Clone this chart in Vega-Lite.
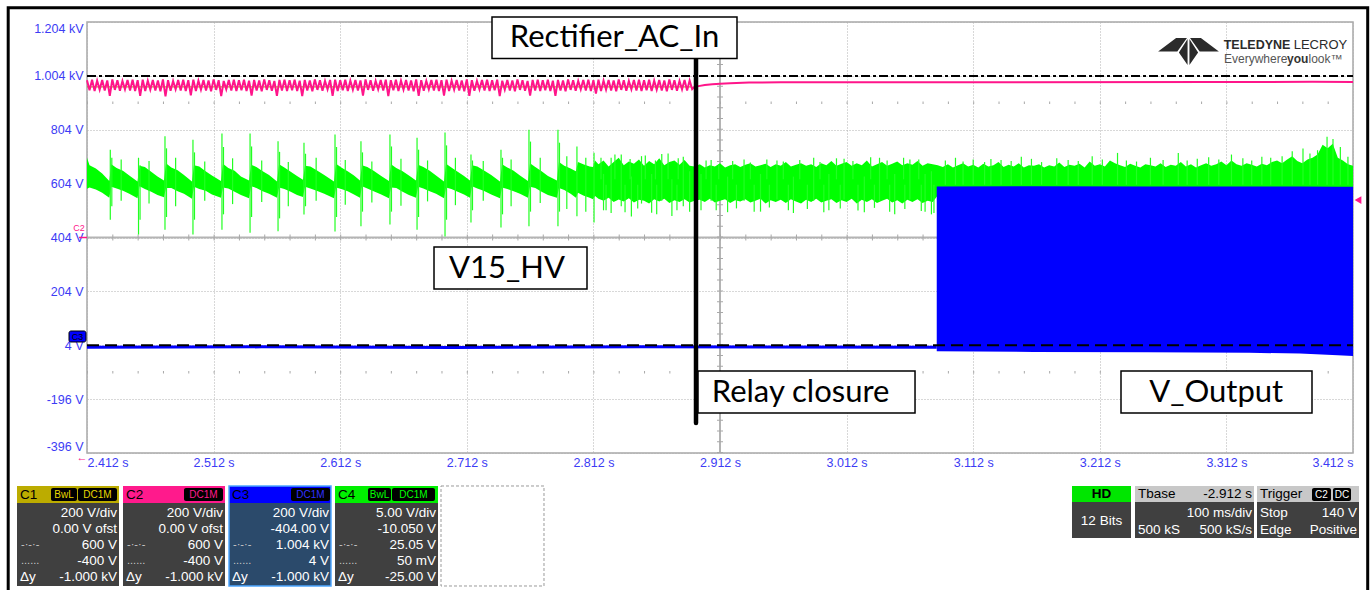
{
"$schema":"https://vega.github.io/schema/vega-lite/v6.json",
"width":1266,"height":431,
"padding":{"left":6,"top":6,"right":0,"bottom":0},
"background":"white",
"config":{"view":{"stroke":"#a8a8a8","strokeWidth":1.5},"font":"Liberation Sans",
"axis":{"grid":true,"gridDash":[1,2],"gridColor":"#b0b0b0","gridWidth":1,"domain":false,"ticks":false,"tickSize":0,"labelColor":"#3c3cf5","labelFont":"Liberation Sans","labelFontSize":12.5,"labelOverlap":false,"labelBound":false,"labelFlush":true}},
"resolve":{"scale":{"color":"independent"}},
"datasets":{
"pink":[{"t":2.412,"v":988},{"t":2.414,"v":951},{"t":2.416,"v":990},{"t":2.418,"v":948},{"t":2.42,"v":986},{"t":2.422,"v":953},{"t":2.424,"v":989},{"t":2.426,"v":950},{"t":2.428,"v":987},{"t":2.43,"v":930},{"t":2.432,"v":991},{"t":2.434,"v":952},{"t":2.436,"v":988},{"t":2.438,"v":949},{"t":2.44,"v":985},{"t":2.442,"v":954},{"t":2.444,"v":989},{"t":2.446,"v":950},{"t":2.448,"v":990},{"t":2.45,"v":948},{"t":2.452,"v":988},{"t":2.454,"v":930},{"t":2.456,"v":990},{"t":2.458,"v":948},{"t":2.46,"v":986},{"t":2.462,"v":953},{"t":2.464,"v":989},{"t":2.466,"v":950},{"t":2.468,"v":987},{"t":2.47,"v":947},{"t":2.472,"v":991},{"t":2.474,"v":928},{"t":2.476,"v":988},{"t":2.478,"v":949},{"t":2.48,"v":985},{"t":2.482,"v":954},{"t":2.484,"v":989},{"t":2.486,"v":950},{"t":2.488,"v":990},{"t":2.49,"v":948},{"t":2.492,"v":988},{"t":2.494,"v":932},{"t":2.496,"v":990},{"t":2.498,"v":948},{"t":2.5,"v":986},{"t":2.502,"v":953},{"t":2.504,"v":989},{"t":2.506,"v":950},{"t":2.508,"v":987},{"t":2.51,"v":947},{"t":2.512,"v":991},{"t":2.514,"v":952},{"t":2.516,"v":988},{"t":2.518,"v":929},{"t":2.52,"v":985},{"t":2.522,"v":954},{"t":2.524,"v":989},{"t":2.526,"v":950},{"t":2.528,"v":990},{"t":2.53,"v":948},{"t":2.532,"v":988},{"t":2.534,"v":951},{"t":2.536,"v":990},{"t":2.538,"v":948},{"t":2.54,"v":986},{"t":2.542,"v":931},{"t":2.544,"v":989},{"t":2.546,"v":950},{"t":2.548,"v":987},{"t":2.55,"v":947},{"t":2.552,"v":991},{"t":2.554,"v":952},{"t":2.556,"v":988},{"t":2.558,"v":949},{"t":2.56,"v":985},{"t":2.562,"v":930},{"t":2.564,"v":989},{"t":2.566,"v":950},{"t":2.568,"v":990},{"t":2.57,"v":948},{"t":2.572,"v":988},{"t":2.574,"v":951},{"t":2.576,"v":990},{"t":2.578,"v":948},{"t":2.58,"v":986},{"t":2.582,"v":929},{"t":2.584,"v":989},{"t":2.586,"v":950},{"t":2.588,"v":987},{"t":2.59,"v":947},{"t":2.592,"v":991},{"t":2.594,"v":952},{"t":2.596,"v":988},{"t":2.598,"v":949},{"t":2.6,"v":985},{"t":2.602,"v":954},{"t":2.604,"v":989},{"t":2.606,"v":930},{"t":2.608,"v":990},{"t":2.61,"v":948},{"t":2.612,"v":988},{"t":2.614,"v":951},{"t":2.616,"v":990},{"t":2.618,"v":948},{"t":2.62,"v":986},{"t":2.622,"v":953},{"t":2.624,"v":989},{"t":2.626,"v":950},{"t":2.628,"v":987},{"t":2.63,"v":931},{"t":2.632,"v":991},{"t":2.634,"v":952},{"t":2.636,"v":988},{"t":2.638,"v":949},{"t":2.64,"v":985},{"t":2.642,"v":954},{"t":2.644,"v":989},{"t":2.646,"v":950},{"t":2.648,"v":990},{"t":2.65,"v":929},{"t":2.652,"v":988},{"t":2.654,"v":951},{"t":2.656,"v":990},{"t":2.658,"v":948},{"t":2.66,"v":986},{"t":2.662,"v":953},{"t":2.664,"v":989},{"t":2.666,"v":950},{"t":2.668,"v":987},{"t":2.67,"v":947},{"t":2.672,"v":991},{"t":2.674,"v":930},{"t":2.676,"v":988},{"t":2.678,"v":949},{"t":2.68,"v":985},{"t":2.682,"v":954},{"t":2.684,"v":989},{"t":2.686,"v":950},{"t":2.688,"v":990},{"t":2.69,"v":948},{"t":2.692,"v":988},{"t":2.694,"v":931},{"t":2.696,"v":990},{"t":2.698,"v":948},{"t":2.7,"v":986},{"t":2.702,"v":953},{"t":2.704,"v":989},{"t":2.706,"v":950},{"t":2.708,"v":987},{"t":2.71,"v":947},{"t":2.712,"v":991},{"t":2.714,"v":930},{"t":2.716,"v":988},{"t":2.718,"v":949},{"t":2.72,"v":985},{"t":2.722,"v":954},{"t":2.724,"v":989},{"t":2.726,"v":950},{"t":2.728,"v":990},{"t":2.73,"v":948},{"t":2.732,"v":988},{"t":2.734,"v":951},{"t":2.736,"v":990},{"t":2.738,"v":929},{"t":2.74,"v":986},{"t":2.742,"v":953},{"t":2.744,"v":989},{"t":2.746,"v":950},{"t":2.748,"v":987},{"t":2.75,"v":947},{"t":2.752,"v":991},{"t":2.754,"v":952},{"t":2.756,"v":988},{"t":2.758,"v":949},{"t":2.76,"v":985},{"t":2.762,"v":931},{"t":2.764,"v":989},{"t":2.766,"v":950},{"t":2.768,"v":990},{"t":2.77,"v":948},{"t":2.772,"v":988},{"t":2.774,"v":951},{"t":2.776,"v":990},{"t":2.778,"v":948},{"t":2.78,"v":986},{"t":2.782,"v":930},{"t":2.784,"v":989},{"t":2.786,"v":950},{"t":2.788,"v":987},{"t":2.79,"v":947},{"t":2.792,"v":991},{"t":2.794,"v":952},{"t":2.796,"v":988},{"t":2.798,"v":949},{"t":2.8,"v":985},{"t":2.802,"v":954},{"t":2.804,"v":989},{"t":2.806,"v":950},{"t":2.808,"v":990},{"t":2.81,"v":948},{"t":2.812,"v":988},{"t":2.814,"v":938},{"t":2.816,"v":990},{"t":2.818,"v":948},{"t":2.82,"v":986},{"t":2.822,"v":953},{"t":2.824,"v":989},{"t":2.826,"v":950},{"t":2.828,"v":987},{"t":2.83,"v":947},{"t":2.832,"v":991},{"t":2.834,"v":952},{"t":2.836,"v":988},{"t":2.838,"v":949},{"t":2.84,"v":985},{"t":2.842,"v":954},{"t":2.844,"v":989},{"t":2.846,"v":950},{"t":2.848,"v":990},{"t":2.85,"v":948},{"t":2.852,"v":988},{"t":2.854,"v":951},{"t":2.856,"v":990},{"t":2.858,"v":948},{"t":2.86,"v":986},{"t":2.862,"v":953},{"t":2.864,"v":989},{"t":2.866,"v":950},{"t":2.868,"v":987},{"t":2.87,"v":947},{"t":2.872,"v":991},{"t":2.874,"v":952},{"t":2.876,"v":988},{"t":2.878,"v":949},{"t":2.88,"v":985},{"t":2.882,"v":954},{"t":2.884,"v":989},{"t":2.886,"v":950},{"t":2.888,"v":987},{"t":2.89,"v":955},{"t":2.8915,"v":962},{"t":2.895,"v":966},{"t":2.9,"v":970},{"t":2.906,"v":973},{"t":2.912,"v":975},{"t":2.92,"v":977},{"t":2.935,"v":979},{"t":2.96,"v":980},{"t":3.1,"v":980},{"t":3.3,"v":981},{"t":3.38,"v":982},{"t":3.412,"v":981}],
"olive":[{"t":2.412,"v":963},{"t":2.89,"v":963}],
"green":[{"t":2.412,"v":585,"v2":700},{"t":2.414,"v":590,"v2":672},{"t":2.419,"v":582,"v2":660},{"t":2.424,"v":570,"v2":642},{"t":2.4296,"v":552,"v2":614},{"t":2.4312,"v":592,"v2":676},{"t":2.4354,"v":586,"v2":662},{"t":2.4404,"v":578,"v2":652},{"t":2.4454,"v":566,"v2":634},{"t":2.4519,"v":550,"v2":612},{"t":2.4535,"v":594,"v2":670},{"t":2.4577,"v":584,"v2":666},{"t":2.4627,"v":574,"v2":648},{"t":2.4677,"v":562,"v2":630},{"t":2.4728,"v":553,"v2":616},{"t":2.4744,"v":588,"v2":680},{"t":2.4786,"v":588,"v2":664},{"t":2.4836,"v":576,"v2":654},{"t":2.4886,"v":566,"v2":636},{"t":2.4949,"v":548,"v2":612},{"t":2.4965,"v":592,"v2":672},{"t":2.5007,"v":584,"v2":668},{"t":2.5057,"v":578,"v2":650},{"t":2.5107,"v":564,"v2":634},{"t":2.5178,"v":552,"v2":614},{"t":2.5194,"v":590,"v2":678},{"t":2.5236,"v":586,"v2":662},{"t":2.5286,"v":574,"v2":652},{"t":2.5336,"v":562,"v2":630},{"t":2.54,"v":550,"v2":616},{"t":2.5416,"v":594,"v2":674},{"t":2.5458,"v":588,"v2":666},{"t":2.5508,"v":576,"v2":650},{"t":2.5558,"v":566,"v2":636},{"t":2.5621,"v":552,"v2":612},{"t":2.5637,"v":590,"v2":676},{"t":2.5679,"v":584,"v2":664},{"t":2.5729,"v":574,"v2":648},{"t":2.5779,"v":562,"v2":632},{"t":2.5826,"v":554,"v2":618},{"t":2.5842,"v":592,"v2":670},{"t":2.5884,"v":586,"v2":668},{"t":2.5934,"v":578,"v2":654},{"t":2.5994,"v":566,"v2":636},{"t":2.6071,"v":550,"v2":612},{"t":2.6087,"v":590,"v2":678},{"t":2.6129,"v":584,"v2":664},{"t":2.6179,"v":576,"v2":650},{"t":2.6229,"v":564,"v2":634},{"t":2.6276,"v":552,"v2":616},{"t":2.6292,"v":594,"v2":672},{"t":2.6334,"v":586,"v2":666},{"t":2.6384,"v":576,"v2":652},{"t":2.6444,"v":564,"v2":632},{"t":2.6505,"v":550,"v2":614},{"t":2.6521,"v":590,"v2":676},{"t":2.6563,"v":588,"v2":662},{"t":2.6613,"v":574,"v2":650},{"t":2.6663,"v":562,"v2":634},{"t":2.6719,"v":552,"v2":616},{"t":2.6735,"v":592,"v2":674},{"t":2.6777,"v":586,"v2":666},{"t":2.6827,"v":576,"v2":652},{"t":2.6877,"v":566,"v2":634},{"t":2.694,"v":550,"v2":612},{"t":2.6956,"v":590,"v2":678},{"t":2.6998,"v":584,"v2":664},{"t":2.7048,"v":574,"v2":648},{"t":2.7098,"v":564,"v2":632},{"t":2.7145,"v":552,"v2":616},{"t":2.7161,"v":594,"v2":672},{"t":2.7203,"v":586,"v2":668},{"t":2.7253,"v":578,"v2":654},{"t":2.7313,"v":564,"v2":636},{"t":2.7382,"v":550,"v2":612},{"t":2.7398,"v":590,"v2":676},{"t":2.744,"v":584,"v2":664},{"t":2.749,"v":576,"v2":652},{"t":2.754,"v":566,"v2":634},{"t":2.7603,"v":552,"v2":614},{"t":2.7619,"v":592,"v2":680},{"t":2.7661,"v":588,"v2":666},{"t":2.7711,"v":574,"v2":650},{"t":2.7761,"v":562,"v2":632},{"t":2.7832,"v":552,"v2":616},{"t":2.7848,"v":588,"v2":684},{"t":2.789,"v":580,"v2":670},{"t":2.794,"v":566,"v2":660},{"t":2.7982,"v":552,"v2":650},{"t":2.7998,"v":570,"v2":684},{"t":2.804,"v":560,"v2":676},{"t":2.809,"v":552,"v2":668},{"t":2.8117,"v":546,"v2":666},{"t":2.8133,"v":558,"v2":690},
{"t":2.816,"v":548,"v2":676},{"t":2.82,"v":540,"v2":690},{"t":2.824,"v":552,"v2":668},{"t":2.828,"v":536,"v2":684},{"t":2.832,"v":545,"v2":700},{"t":2.836,"v":538,"v2":672},{"t":2.84,"v":550,"v2":686},{"t":2.844,"v":534,"v2":678},{"t":2.848,"v":544,"v2":694},{"t":2.852,"v":540,"v2":670},{"t":2.856,"v":530,"v2":688},{"t":2.86,"v":546,"v2":676},{"t":2.864,"v":538,"v2":698},{"t":2.868,"v":548,"v2":672},{"t":2.872,"v":532,"v2":684},{"t":2.876,"v":542,"v2":690},{"t":2.88,"v":536,"v2":674},{"t":2.884,"v":546,"v2":692},{"t":2.888,"v":534,"v2":670},{"t":2.892,"v":540,"v2":668},{"t":2.896,"v":544,"v2":676},{"t":2.9,"v":536,"v2":664},{"t":2.904,"v":548,"v2":672},{"t":2.908,"v":534,"v2":668},{"t":2.912,"v":540,"v2":680},{"t":2.916,"v":546,"v2":664},{"t":2.92,"v":532,"v2":672},{"t":2.924,"v":542,"v2":676},{"t":2.928,"v":538,"v2":666},{"t":2.932,"v":546,"v2":674},{"t":2.936,"v":534,"v2":680},{"t":2.94,"v":540,"v2":668},{"t":2.944,"v":548,"v2":672},{"t":2.948,"v":530,"v2":678},{"t":2.952,"v":542,"v2":666},{"t":2.956,"v":536,"v2":676},{"t":2.96,"v":544,"v2":670},{"t":2.964,"v":532,"v2":684},{"t":2.968,"v":546,"v2":668},{"t":2.972,"v":538,"v2":674},{"t":2.976,"v":530,"v2":680},{"t":2.98,"v":544,"v2":670},{"t":2.984,"v":536,"v2":676},{"t":2.988,"v":548,"v2":666},{"t":2.992,"v":534,"v2":680},{"t":2.996,"v":540,"v2":672},{"t":3.0,"v":546,"v2":688},{"t":3.004,"v":532,"v2":670},{"t":3.008,"v":542,"v2":678},{"t":3.012,"v":536,"v2":684},{"t":3.016,"v":548,"v2":670},{"t":3.02,"v":530,"v2":680},{"t":3.024,"v":544,"v2":672},{"t":3.028,"v":536,"v2":690},{"t":3.032,"v":546,"v2":668},{"t":3.036,"v":532,"v2":676},{"t":3.04,"v":540,"v2":684},{"t":3.044,"v":548,"v2":670},{"t":3.048,"v":534,"v2":678},{"t":3.052,"v":542,"v2":686},{"t":3.056,"v":530,"v2":672},{"t":3.06,"v":544,"v2":680},{"t":3.064,"v":536,"v2":674},{"t":3.068,"v":546,"v2":688},{"t":3.072,"v":532,"v2":670},{"t":3.076,"v":540,"v2":680},{"t":3.08,"v":536,"v2":676},{"t":3.084,"v":560,"v2":672},{"t":3.088,"v":560,"v2":666},{"t":3.092,"v":560,"v2":676},{"t":3.096,"v":560,"v2":664},{"t":3.1,"v":560,"v2":672},{"t":3.104,"v":560,"v2":680},{"t":3.108,"v":560,"v2":668},{"t":3.112,"v":560,"v2":674},{"t":3.116,"v":560,"v2":664},{"t":3.12,"v":560,"v2":678},{"t":3.124,"v":560,"v2":668},{"t":3.128,"v":560,"v2":672},{"t":3.132,"v":560,"v2":684},{"t":3.136,"v":560,"v2":666},{"t":3.14,"v":560,"v2":674},{"t":3.144,"v":560,"v2":668},{"t":3.148,"v":560,"v2":680},{"t":3.152,"v":560,"v2":664},{"t":3.156,"v":560,"v2":672},{"t":3.16,"v":560,"v2":670},{"t":3.164,"v":560,"v2":676},{"t":3.168,"v":560,"v2":664},{"t":3.172,"v":560,"v2":672},{"t":3.176,"v":560,"v2":668},{"t":3.18,"v":560,"v2":682},{"t":3.184,"v":560,"v2":666},{"t":3.188,"v":560,"v2":674},{"t":3.192,"v":560,"v2":670},{"t":3.196,"v":560,"v2":678},{"t":3.2,"v":560,"v2":664},{"t":3.204,"v":560,"v2":686},{"t":3.208,"v":560,"v2":670},{"t":3.212,"v":560,"v2":676},{"t":3.216,"v":560,"v2":668},{"t":3.22,"v":560,"v2":690},{"t":3.224,"v":560,"v2":680},{"t":3.228,"v":560,"v2":672},{"t":3.232,"v":560,"v2":666},{"t":3.236,"v":560,"v2":678},{"t":3.24,"v":560,"v2":670},{"t":3.244,"v":560,"v2":664},{"t":3.248,"v":560,"v2":676},{"t":3.252,"v":560,"v2":672},{"t":3.256,"v":560,"v2":668},{"t":3.26,"v":560,"v2":680},{"t":3.264,"v":560,"v2":666},{"t":3.268,"v":560,"v2":674},{"t":3.272,"v":560,"v2":670},{"t":3.276,"v":560,"v2":684},{"t":3.28,"v":560,"v2":668},{"t":3.284,"v":560,"v2":676},{"t":3.288,"v":560,"v2":664},{"t":3.292,"v":560,"v2":672},{"t":3.296,"v":560,"v2":680},{"t":3.3,"v":560,"v2":670},{"t":3.304,"v":560,"v2":676},{"t":3.308,"v":560,"v2":686},{"t":3.312,"v":560,"v2":672},{"t":3.316,"v":560,"v2":690},{"t":3.32,"v":560,"v2":676},{"t":3.324,"v":560,"v2":670},{"t":3.328,"v":560,"v2":680},{"t":3.332,"v":560,"v2":674},{"t":3.336,"v":560,"v2":668},{"t":3.34,"v":560,"v2":678},{"t":3.344,"v":560,"v2":672},{"t":3.348,"v":560,"v2":684},{"t":3.352,"v":560,"v2":690},{"t":3.356,"v":560,"v2":680},{"t":3.36,"v":560,"v2":694},{"t":3.364,"v":560,"v2":706},{"t":3.368,"v":560,"v2":688},{"t":3.372,"v":560,"v2":680},{"t":3.376,"v":560,"v2":694},{"t":3.38,"v":560,"v2":700},{"t":3.384,"v":560,"v2":712},{"t":3.388,"v":560,"v2":748},{"t":3.392,"v":560,"v2":735},{"t":3.396,"v":560,"v2":752},{"t":3.4,"v":560,"v2":700},{"t":3.404,"v":560,"v2":690},{"t":3.408,"v":560,"v2":676},{"t":3.412,"v":560,"v2":670}],
"gspk":[{"t":2.4304,"v":470,"v2":730},{"t":2.4527,"v":415,"v2":700},{"t":2.4736,"v":433,"v2":780},{"t":2.4957,"v":415,"v2":767},{"t":2.5186,"v":433,"v2":790},{"t":2.5408,"v":422,"v2":790},{"t":2.5629,"v":427,"v2":761},{"t":2.5834,"v":489,"v2":756},{"t":2.6079,"v":426,"v2":786},{"t":2.6284,"v":446,"v2":761},{"t":2.6513,"v":452,"v2":786},{"t":2.6727,"v":433,"v2":774},{"t":2.6948,"v":408,"v2":794},{"t":2.7153,"v":460,"v2":712},{"t":2.739,"v":441,"v2":730},{"t":2.7611,"v":446,"v2":804},{"t":2.784,"v":446,"v2":804},{"t":2.799,"v":483,"v2":742},{"t":2.8125,"v":460,"v2":719},
{"t":2.4316,"v":520,"v2":700},{"t":2.4539,"v":470,"v2":672},{"t":2.4748,"v":480,"v2":735},{"t":2.4969,"v":470,"v2":720},{"t":2.5198,"v":490,"v2":740},{"t":2.542,"v":480,"v2":742},{"t":2.5641,"v":475,"v2":722},{"t":2.5846,"v":520,"v2":715},{"t":2.6091,"v":480,"v2":740},{"t":2.6296,"v":500,"v2":720},{"t":2.6525,"v":500,"v2":742},{"t":2.6739,"v":480,"v2":730},{"t":2.696,"v":470,"v2":746},{"t":2.7165,"v":505,"v2":690},{"t":2.7402,"v":490,"v2":700},{"t":2.7623,"v":500,"v2":760},{"t":2.7852,"v":500,"v2":756},
{"t":2.439,"v":540,"v2":694},{"t":2.461,"v":530,"v2":688},{"t":2.482,"v":520,"v2":700},{"t":2.505,"v":540,"v2":686},{"t":2.527,"v":528,"v2":698},{"t":2.55,"v":536,"v2":690},{"t":2.571,"v":520,"v2":684},{"t":2.593,"v":540,"v2":700},{"t":2.616,"v":526,"v2":692},{"t":2.637,"v":534,"v2":686},{"t":2.66,"v":522,"v2":696},{"t":2.681,"v":538,"v2":690},{"t":2.703,"v":524,"v2":700},{"t":2.725,"v":540,"v2":688},{"t":2.747,"v":520,"v2":694},{"t":2.77,"v":532,"v2":700},{"t":2.791,"v":510,"v2":706},{"t":2.806,"v":500,"v2":700},
{"t":2.82,"v":505,"v2":640},{"t":2.826,"v":495,"v2":700},{"t":2.834,"v":520,"v2":712},{"t":2.842,"v":482,"v2":630},{"t":2.85,"v":530,"v2":706},{"t":2.858,"v":496,"v2":640},{"t":2.866,"v":540,"v2":714},{"t":2.874,"v":484,"v2":620},{"t":2.883,"v":520,"v2":704},{"t":2.888,"v":500,"v2":650},{"t":2.897,"v":505,"v2":640},{"t":2.905,"v":540,"v2":692},{"t":2.918,"v":498,"v2":630},{"t":2.931,"v":540,"v2":694},{"t":2.944,"v":500,"v2":640},{"t":2.957,"v":545,"v2":690},{"t":2.97,"v":495,"v2":630},{"t":2.986,"v":540,"v2":700},{"t":2.998,"v":505,"v2":640},{"t":3.01,"v":545,"v2":696},{"t":3.026,"v":498,"v2":630},{"t":3.038,"v":540,"v2":700},{"t":3.05,"v":490,"v2":640},{"t":3.062,"v":545,"v2":694},{"t":3.074,"v":500,"v2":640},{"t":3.079,"v":490,"v2":650},
{"t":2.818,"v":620,"v2":700},{"t":2.829,"v":620,"v2":712},{"t":2.841,"v":620,"v2":695},{"t":2.853,"v":620,"v2":708},{"t":2.861,"v":620,"v2":690},{"t":2.871,"v":620,"v2":716},{"t":2.879,"v":620,"v2":698},{"t":2.893,"v":620,"v2":684},{"t":2.901,"v":620,"v2":690},{"t":2.911,"v":620,"v2":676},{"t":2.922,"v":620,"v2":688},{"t":2.936,"v":620,"v2":682},{"t":2.949,"v":620,"v2":694},{"t":2.962,"v":620,"v2":686},{"t":2.975,"v":620,"v2":692},{"t":2.991,"v":620,"v2":684},{"t":3.004,"v":620,"v2":698},{"t":3.017,"v":620,"v2":688},{"t":3.031,"v":620,"v2":702},{"t":3.044,"v":620,"v2":690},{"t":3.057,"v":620,"v2":700},{"t":3.069,"v":620,"v2":694},
{"t":2.822,"v":505,"v2":600},{"t":2.837,"v":498,"v2":600},{"t":2.847,"v":512,"v2":600},{"t":2.862,"v":490,"v2":600},{"t":2.878,"v":505,"v2":600},{"t":2.894,"v":515,"v2":600},{"t":2.909,"v":505,"v2":600},{"t":2.925,"v":512,"v2":600},{"t":2.939,"v":500,"v2":600},{"t":2.951,"v":515,"v2":600},{"t":2.966,"v":505,"v2":600},{"t":2.981,"v":510,"v2":600},{"t":2.994,"v":498,"v2":600},{"t":3.007,"v":512,"v2":600},{"t":3.021,"v":504,"v2":600},{"t":3.034,"v":514,"v2":600},{"t":3.046,"v":500,"v2":600},{"t":3.058,"v":510,"v2":600},{"t":3.071,"v":502,"v2":600},{"t":3.081,"v":495,"v2":600},
{"t":3.09,"v":600,"v2":690},{"t":3.098,"v":600,"v2":700},{"t":3.104,"v":600,"v2":686},{"t":3.112,"v":600,"v2":694},{"t":3.121,"v":600,"v2":684},{"t":3.126,"v":600,"v2":695},{"t":3.134,"v":600,"v2":692},{"t":3.142,"v":600,"v2":688},{"t":3.15,"v":600,"v2":704},{"t":3.158,"v":600,"v2":696},{"t":3.166,"v":600,"v2":684},{"t":3.178,"v":600,"v2":698},{"t":3.187,"v":600,"v2":692},{"t":3.195,"v":600,"v2":688},{"t":3.206,"v":600,"v2":706},{"t":3.214,"v":600,"v2":694},{"t":3.226,"v":600,"v2":718},{"t":3.233,"v":600,"v2":690},{"t":3.241,"v":600,"v2":686},{"t":3.252,"v":600,"v2":700},{"t":3.262,"v":600,"v2":692},{"t":3.274,"v":600,"v2":718},{"t":3.281,"v":600,"v2":690},{"t":3.289,"v":600,"v2":696},{"t":3.298,"v":600,"v2":702},{"t":3.306,"v":600,"v2":694},{"t":3.316,"v":600,"v2":712},{"t":3.325,"v":600,"v2":698},{"t":3.332,"v":600,"v2":690},{"t":3.34,"v":600,"v2":704},{"t":3.347,"v":600,"v2":700},{"t":3.356,"v":600,"v2":706},{"t":3.364,"v":600,"v2":724},{"t":3.3725,"v":600,"v2":734},{"t":3.378,"v":600,"v2":716},{"t":3.384,"v":600,"v2":728},{"t":3.3915,"v":600,"v2":778},{"t":3.3962,"v":600,"v2":770},{"t":3.402,"v":600,"v2":740},{"t":3.408,"v":600,"v2":704}],
"blueL":[{"t":2.412,"v":-3},{"t":2.55,"v":-2},{"t":2.7,"v":-4},{"t":2.85,"v":-2},{"t":3.0832,"v":-3}],
"blueA":[{"t":3.0832,"v":-18,"v2":593},{"t":3.16,"v":-21,"v2":594},{"t":3.25,"v":-22,"v2":593},{"t":3.33,"v":-24,"v2":593},{"t":3.37,"v":-27,"v2":593},{"t":3.4,"v":-33,"v2":592},{"t":3.412,"v":-36,"v2":592}],
"hr":[{"t":2.412,"t2":3.412,"v":404,"k":"ctr"},{"t":2.412,"t2":3.412,"v":404,"k":"tick"},{"t":2.412,"t2":3.412,"v":904,"k":"dots"},{"t":2.412,"t2":3.412,"v":-96,"k":"dots"},{"t":2.412,"t2":3.412,"v":1004,"k":"cdd"},{"t":2.412,"t2":3.412,"v":4,"k":"cd"},{"t":2.405681,"t2":2.412,"v":404,"k":"pmk"}],
"vr":[{"t":2.912,"v":-396,"v2":1204,"k":"ctr"},{"t":2.912,"v":-396,"v2":1204,"k":"tick"},{"t":2.893043,"v":-284.7,"v2":1074.1,"k":"relay"}],
"boxes":[{"t":2.731905,"t2":2.925428,"v":1222.6,"v2":1068.5,"k":"ann"},{"t":2.686096,"t2":2.806945,"v":368.7,"v2":212.8,"k":"ann"},{"t":2.894627,"t2":3.066047,"v":-91.6,"v2":-247.5,"k":"ann"},{"t":3.228748,"t2":3.379614,"v":-91.6,"v2":-247.5,"k":"ann"},
{"t":2.397782,"t2":2.41121,"v":56.9,"v2":16.1,"k":"c3tag"},
{"t":2.356708,"t2":2.437276,"v":-518.5,"v2":-581.6,"k":"hdr","c":"C1"},{"t":2.440436,"t2":2.521005,"v":-518.5,"v2":-581.6,"k":"hdr","c":"C2"},{"t":2.524164,"t2":2.604733,"v":-518.5,"v2":-581.6,"k":"hdr","c":"C3"},{"t":2.607893,"t2":2.689251,"v":-518.5,"v2":-581.6,"k":"hdr","c":"C4"},{"t":3.190041,"t2":3.236645,"v":-518.5,"v2":-577.9,"k":"hdr","c":"HD"},{"t":3.239804,"t2":3.333801,"v":-518.5,"v2":-577.9,"k":"hdr","c":"TB"},{"t":3.336171,"t2":3.416739,"v":-518.5,"v2":-577.9,"k":"hdr","c":"TR"},
{"t":2.356708,"t2":2.437276,"v":-581.6,"v2":-889.7,"k":"body","c":"C1"},{"t":2.440436,"t2":2.521005,"v":-581.6,"v2":-889.7,"k":"body","c":"C2"},{"t":2.524164,"t2":2.604733,"v":-581.6,"v2":-889.7,"k":"body","c":"C3"},{"t":2.607893,"t2":2.689251,"v":-581.6,"v2":-889.7,"k":"body","c":"C4"},{"t":3.190041,"t2":3.236645,"v":-577.9,"v2":-711.5,"k":"body","c":"HD"},{"t":3.239804,"t2":3.333801,"v":-577.9,"v2":-711.5,"k":"body","c":"TB"},{"t":3.336171,"t2":3.416739,"v":-577.9,"v2":-711.5,"k":"body","c":"TR"},
{"t":2.383564,"t2":2.404101,"v":-525.9,"v2":-574.2,"k":"tag"},{"t":2.404891,"t2":2.435697,"v":-525.9,"v2":-574.2,"k":"tag"},{"t":2.488619,"t2":2.519425,"v":-525.9,"v2":-574.2,"k":"tag"},{"t":2.573137,"t2":2.603943,"v":-525.9,"v2":-574.2,"k":"tag"},{"t":2.633959,"t2":2.652126,"v":-525.9,"v2":-574.2,"k":"tag"},{"t":2.652916,"t2":2.686882,"v":-525.9,"v2":-574.2,"k":"tag"},{"t":3.379614,"t2":3.394623,"v":-525.9,"v2":-574.2,"k":"tag"},{"t":3.396202,"t2":3.41042,"v":-525.9,"v2":-574.2,"k":"tag"},
{"t":2.691621,"t2":2.772979,"v":-518.5,"v2":-889.7,"k":"dot"},{"t":2.524164,"t2":2.604733,"v":-518.5,"v2":-889.7,"k":"c3b"},
{"t":2.349757,"t2":3.423611,"v":1256.7,"v2":-941.7,"k":"frame"}],
"marks":[{"t":3.282063,"v":1094.5,"k":"logo"},{"t":3.415949,"v":543.2,"k":"ptri"}],
"labels":[{"t":2.828667,"v":1112.3,"s":"Rectifier_AC_In","k":"ann"},{"t":2.743754,"v":253.6,"s":"V15_HV","k":"ann"},{"t":2.975671,"v":-205.6,"s":"Relay closure","k":"ann"},{"t":3.303943,"v":-205.6,"s":"V_Output","k":"ann"},
{"t":3.309867,"v":1117.5,"s":"TELEDYNE","k":"lgB"},{"t":3.365166,"v":1117.5,"s":"LECROY","k":"lgN"},{"t":3.310107,"v":1064.8,"s":"Everywhere","k":"lg2"},{"t":3.359867,"v":1064.8,"s":"you","k":"lg2b"},{"t":3.37685,"v":1064.8,"s":"look™","k":"lg2"},
{"t":2.405681,"v":441.1,"s":"C2","k":"mC2"},{"t":2.404496,"v":36.4,"s":"C3","k":"mC3"},{"t":2.408051,"v":-414.6,"s":"←","k":"arr"},
{"t":2.356708,"v":-550.1,"s":"C1","k":"hn"},{"t":2.440436,"v":-550.1,"s":"C2","k":"hn"},{"t":2.524164,"v":-550.1,"s":"C3","k":"hn"},{"t":2.607893,"v":-550.1,"s":"C4","k":"hn"},
{"t":2.393832,"v":-550.1,"s":"BwL","k":"tg","c":"C1"},{"t":2.420294,"v":-550.1,"s":"DC1M","k":"tg","c":"C1"},{"t":2.504022,"v":-550.1,"s":"DC1M","k":"tg","c":"C2"},{"t":2.58854,"v":-550.1,"s":"DC1M","k":"tg","c":"C3"},{"t":2.643043,"v":-550.1,"s":"BwL","k":"tg","c":"C4"},{"t":2.669899,"v":-550.1,"s":"DC1M","k":"tg","c":"C4"},{"t":3.387119,"v":-550.1,"s":"C2","k":"tg","c":"TR"},{"t":3.403311,"v":-550.1,"s":"DC","k":"tg","c":"TR"},
{"t":2.437276,"v":-618.7,"s":"200 V/div","k":"br"},{"t":2.437276,"v":-678.1,"s":"0.00 V ofst","k":"br"},{"t":2.437276,"v":-737.5,"s":"600 V","k":"br"},{"t":2.437276,"v":-796.9,"s":"-400 V","k":"br"},{"t":2.437276,"v":-856.3,"s":"-1.000 kV","k":"br"},{"t":2.356708,"v":-737.5,"s":"-·-·-","k":"sy"},{"t":2.356708,"v":-796.9,"s":"......","k":"sy"},{"t":2.356708,"v":-856.3,"s":"Δy","k":"bl"},
{"t":2.521005,"v":-618.7,"s":"200 V/div","k":"br"},{"t":2.521005,"v":-678.1,"s":"0.00 V ofst","k":"br"},{"t":2.521005,"v":-737.5,"s":"600 V","k":"br"},{"t":2.521005,"v":-796.9,"s":"-400 V","k":"br"},{"t":2.521005,"v":-856.3,"s":"-1.000 kV","k":"br"},{"t":2.440436,"v":-737.5,"s":"-·-·-","k":"sy"},{"t":2.440436,"v":-796.9,"s":"......","k":"sy"},{"t":2.440436,"v":-856.3,"s":"Δy","k":"bl"},
{"t":2.604733,"v":-618.7,"s":"200 V/div","k":"br"},{"t":2.604733,"v":-678.1,"s":"-404.00 V","k":"br"},{"t":2.604733,"v":-737.5,"s":"1.004 kV","k":"br"},{"t":2.604733,"v":-796.9,"s":"4 V","k":"br"},{"t":2.604733,"v":-856.3,"s":"-1.000 kV","k":"br"},{"t":2.524164,"v":-737.5,"s":"-·-·-","k":"sy"},{"t":2.524164,"v":-796.9,"s":"......","k":"sy"},{"t":2.524164,"v":-856.3,"s":"Δy","k":"bl"},
{"t":2.689251,"v":-618.7,"s":"5.00 V/div","k":"br"},{"t":2.689251,"v":-678.1,"s":"-10.050 V","k":"br"},{"t":2.689251,"v":-737.5,"s":"25.05 V","k":"br"},{"t":2.689251,"v":-796.9,"s":"50 mV","k":"br"},{"t":2.689251,"v":-856.3,"s":"-25.00 V","k":"br"},{"t":2.607893,"v":-737.5,"s":"-·-·-","k":"sy"},{"t":2.607893,"v":-796.9,"s":"......","k":"sy"},{"t":2.607893,"v":-856.3,"s":"Δy","k":"bl"},
{"t":3.213343,"v":-548.2,"s":"HD","k":"hc"},{"t":3.213343,"v":-646.6,"s":"12 Bits","k":"bc"},
{"t":3.239804,"v":-548.2,"s":"Tbase","k":"hl"},{"t":3.333801,"v":-548.2,"s":"-2.912 s","k":"hr"},{"t":3.333801,"v":-616.9,"s":"100 ms/div","k":"br"},{"t":3.239804,"v":-680.0,"s":"500 kS","k":"bl"},{"t":3.333801,"v":-680.0,"s":"500 kS/s","k":"br"},
{"t":3.336171,"v":-548.2,"s":"Trigger","k":"hl"},{"t":3.336171,"v":-616.9,"s":"Stop","k":"bl"},{"t":3.416739,"v":-616.9,"s":"140 V","k":"br"},{"t":3.336171,"v":-680.0,"s":"Edge","k":"bl"},{"t":3.416739,"v":-680.0,"s":"Positive","k":"br"}]
},
"encoding":{
"x":{"field":"t","type":"quantitative","scale":{"domain":[2.412,3.412],"nice":false,"zero":false},"axis":{"title":null,"values":[2.412,2.512,2.612,2.712,2.812,2.912,3.012,3.112,3.212,3.312,3.412],"labelExpr":"format(datum.value,'.3f') + ' s'","labelPadding":3}},
"y":{"field":"v","type":"quantitative","scale":{"domain":[-396,1204],"nice":false,"zero":false},"axis":{"title":null,"values":[-396,-196,4,204,404,604,804,1004,1204],"labelExpr":"datum.value >= 1000 ? format(datum.value/1000,'.3f') + ' kV' : datum.value + ' V'","labelPadding":4,"labelFlushOffset":0}}
},
"layer":[
{"data":{"name":"hr"},"transform":[{"filter":"datum.k=='ctr'"}],"mark":{"type":"rule","color":"#b4b4b4","strokeWidth":2},"encoding":{"x2":{"field":"t2"}}},
{"data":{"name":"vr"},"transform":[{"filter":"datum.k=='ctr'"}],"mark":{"type":"rule","color":"#b4b4b4","strokeWidth":2},"encoding":{"y2":{"field":"v2"}}},
{"data":{"name":"hr"},"transform":[{"filter":"datum.k=='tick'"}],"mark":{"type":"rule","color":"#a8a8a8","strokeWidth":6,"strokeDash":[1,24.32]},"encoding":{"x2":{"field":"t2"}}},
{"data":{"name":"vr"},"transform":[{"filter":"datum.k=='tick'"}],"mark":{"type":"rule","color":"#a8a8a8","strokeWidth":6,"strokeDash":[1,9.775]},"encoding":{"y2":{"field":"v2"}}},
{"data":{"name":"hr"},"transform":[{"filter":"datum.k=='dots'"}],"mark":{"type":"rule","color":"#a8a8a8","strokeWidth":2.5,"strokeDash":[1,24.32]},"encoding":{"x2":{"field":"t2"}}},
{"data":{"name":"olive"},"mark":{"type":"line","color":"#a09800","strokeWidth":1},"encoding":{}},
{"data":{"name":"pink"},"mark":{"type":"line","color":"#ff158a","strokeWidth":2},"encoding":{}},
{"data":{"name":"green"},"mark":{"type":"area","color":"#00ff00","opacity":1},"encoding":{"y2":{"field":"v2"}}},
{"data":{"name":"gspk"},"mark":{"type":"rule","color":"#22ff22","strokeWidth":1.2},"encoding":{"y2":{"field":"v2"}}},
{"data":{"name":"blueL"},"mark":{"type":"line","color":"#0000ff","strokeWidth":3},"encoding":{}},
{"data":{"name":"blueA"},"mark":{"type":"area","color":"#0000ff","opacity":1},"encoding":{"y2":{"field":"v2"}}},
{"data":{"name":"hr"},"transform":[{"filter":"datum.k=='cdd'"}],"mark":{"type":"rule","color":"black","strokeWidth":2,"strokeDash":[9,3,3,3]},"encoding":{"x2":{"field":"t2"}}},
{"data":{"name":"hr"},"transform":[{"filter":"datum.k=='cd'"}],"mark":{"type":"rule","color":"black","strokeWidth":2,"strokeDash":[12,6]},"encoding":{"x2":{"field":"t2"}}},
{"data":{"name":"vr"},"transform":[{"filter":"datum.k=='relay'"}],"mark":{"type":"rule","color":"black","strokeWidth":4.5,"strokeCap":"round"},"encoding":{"y2":{"field":"v2"}}},
{"data":{"name":"boxes"},"transform":[{"filter":"datum.k=='ann'"}],"mark":{"type":"rect","fill":"white","stroke":"black","strokeWidth":1.5},"encoding":{"x2":{"field":"t2"},"y2":{"field":"v2"}}},
{"data":{"name":"labels"},"transform":[{"filter":"datum.k=='ann'"}],"mark":{"type":"text","font":"Lato","fontSize":31,"align":"center","baseline":"alphabetic","color":"black"},"encoding":{"text":{"field":"s"}}},
{"data":{"name":"marks"},"transform":[{"filter":"datum.k=='logo'"}],"mark":{"type":"point","shape":"M-0.98,0L-0.4,-0.435L-0.05,-0.435L-0.36,0ZM0.98,0L0.4,-0.435L0.05,-0.435L0.36,0ZM-0.31,0.03L-0.03,-0.4L-0.03,0.435ZM0.31,0.03L0.03,-0.4L0.03,0.435Z","size":3844,"filled":true,"color":"#2b2b2b","opacity":1,"strokeWidth":0},"encoding":{}},
{"data":{"name":"marks"},"transform":[{"filter":"datum.k=='ptri'"}],"mark":{"type":"point","shape":"triangle-left","size":60,"filled":true,"color":"#ff158a","opacity":1},"encoding":{}},
{"data":{"name":"labels"},"transform":[{"filter":"datum.k=='lgB'"}],"mark":{"type":"text","fontSize":12.5,"fontWeight":"bold","align":"left","baseline":"middle","color":"#2b2b2b"},"encoding":{"text":{"field":"s"}}},
{"data":{"name":"labels"},"transform":[{"filter":"datum.k=='lgN'"}],"mark":{"type":"text","fontSize":13,"align":"left","baseline":"middle","color":"#2b2b2b"},"encoding":{"text":{"field":"s"}}},
{"data":{"name":"labels"},"transform":[{"filter":"datum.k=='lg2'"}],"mark":{"type":"text","fontSize":12,"align":"left","baseline":"middle","color":"#555555"},"encoding":{"text":{"field":"s"}}},
{"data":{"name":"labels"},"transform":[{"filter":"datum.k=='lg2b'"}],"mark":{"type":"text","fontSize":12,"fontWeight":"bold","align":"left","baseline":"middle","color":"#333333"},"encoding":{"text":{"field":"s"}}},
{"data":{"name":"hr"},"transform":[{"filter":"datum.k=='pmk'"}],"mark":{"type":"rule","color":"#ff158a","strokeWidth":1.5},"encoding":{"x2":{"field":"t2"}}},
{"data":{"name":"labels"},"transform":[{"filter":"datum.k=='mC2'"}],"mark":{"type":"text","fontSize":9,"align":"center","baseline":"middle","color":"#ff158a"},"encoding":{"text":{"field":"s"}}},
{"data":{"name":"labels"},"transform":[{"filter":"datum.k=='arr'"}],"mark":{"type":"text","fontSize":11,"align":"center","baseline":"middle","color":"#ff158a"},"encoding":{"text":{"field":"s"}}},
{"data":{"name":"boxes"},"transform":[{"filter":"datum.k=='c3tag'"}],"mark":{"type":"rect","color":"#0000ff","cornerRadius":2,"stroke":"black","strokeWidth":1},"encoding":{"x2":{"field":"t2"},"y2":{"field":"v2"}}},
{"data":{"name":"labels"},"transform":[{"filter":"datum.k=='mC3'"}],"mark":{"type":"text","fontSize":9,"align":"center","baseline":"middle","color":"black"},"encoding":{"text":{"field":"s"}}},
{"data":{"name":"boxes"},"transform":[{"filter":"datum.k=='hdr'"}],"mark":{"type":"rect"},"encoding":{"x2":{"field":"t2"},"y2":{"field":"v2"},"color":{"field":"c","type":"nominal","legend":null,"scale":{"domain":["C1","C2","C3","C4","HD","TB","TR"],"range":["#bcac00","#ff1a8c","#0000ff","#00f000","#00e600","#c8c8c8","#c8c8c8"]}}}},
{"data":{"name":"boxes"},"transform":[{"filter":"datum.k=='body'"}],"mark":{"type":"rect"},"encoding":{"x2":{"field":"t2"},"y2":{"field":"v2"},"color":{"field":"c","type":"nominal","legend":null,"scale":{"domain":["C1","C2","C3","C4","HD","TB","TR"],"range":["#404040","#404040","#2b4a6b","#404040","#404040","#404040","#404040"]}}}},
{"data":{"name":"boxes"},"transform":[{"filter":"datum.k=='tag'"}],"mark":{"type":"rect","color":"black","cornerRadius":2},"encoding":{"x2":{"field":"t2"},"y2":{"field":"v2"}}},
{"data":{"name":"boxes"},"transform":[{"filter":"datum.k=='dot'"}],"mark":{"type":"rect","filled":false,"color":"#9a9a9a","strokeWidth":1,"strokeDash":[3,2]},"encoding":{"x2":{"field":"t2"},"y2":{"field":"v2"}}},
{"data":{"name":"boxes"},"transform":[{"filter":"datum.k=='c3b'"}],"mark":{"type":"rect","filled":false,"color":"#4ea6ff","strokeWidth":1.5},"encoding":{"x2":{"field":"t2"},"y2":{"field":"v2"}}},
{"data":{"name":"labels"},"transform":[{"filter":"datum.k=='hn'"}],"mark":{"type":"text","fontSize":13.5,"align":"left","baseline":"middle","dx":3,"color":"black"},"encoding":{"text":{"field":"s"}}},
{"data":{"name":"labels"},"transform":[{"filter":"datum.k=='tg'"}],"mark":{"type":"text","fontSize":10,"align":"center","baseline":"middle"},"encoding":{"text":{"field":"s"},"color":{"field":"c","type":"nominal","legend":null,"scale":{"domain":["C1","C2","C3","C4","TR"],"range":["#e8d800","#ff1a8c","#3030ff","#00ff00","#ffffff"]}}}},
{"data":{"name":"labels"},"transform":[{"filter":"datum.k=='br'"}],"mark":{"type":"text","fontSize":13.5,"align":"right","baseline":"middle","dx":-2,"color":"white"},"encoding":{"text":{"field":"s"}}},
{"data":{"name":"labels"},"transform":[{"filter":"datum.k=='bl'"}],"mark":{"type":"text","fontSize":13.5,"align":"left","baseline":"middle","dx":3,"color":"white"},"encoding":{"text":{"field":"s"}}},
{"data":{"name":"labels"},"transform":[{"filter":"datum.k=='sy'"}],"mark":{"type":"text","fontSize":11,"align":"left","baseline":"middle","dx":4,"color":"#c8c8c8"},"encoding":{"text":{"field":"s"}}},
{"data":{"name":"labels"},"transform":[{"filter":"datum.k=='hc'"}],"mark":{"type":"text","fontSize":13.5,"fontWeight":"bold","align":"center","baseline":"middle","color":"black"},"encoding":{"text":{"field":"s"}}},
{"data":{"name":"labels"},"transform":[{"filter":"datum.k=='bc'"}],"mark":{"type":"text","fontSize":13.5,"align":"center","baseline":"middle","color":"white"},"encoding":{"text":{"field":"s"}}},
{"data":{"name":"labels"},"transform":[{"filter":"datum.k=='hl'"}],"mark":{"type":"text","fontSize":13.5,"align":"left","baseline":"middle","dx":3,"color":"black"},"encoding":{"text":{"field":"s"}}},
{"data":{"name":"labels"},"transform":[{"filter":"datum.k=='hr'"}],"mark":{"type":"text","fontSize":13.5,"align":"right","baseline":"middle","dx":-2,"color":"black"},"encoding":{"text":{"field":"s"}}},
{"data":{"name":"boxes"},"transform":[{"filter":"datum.k=='frame'"}],"mark":{"type":"rect","filled":false,"color":"black","strokeWidth":3},"encoding":{"x2":{"field":"t2"},"y2":{"field":"v2"}}}
]
}
